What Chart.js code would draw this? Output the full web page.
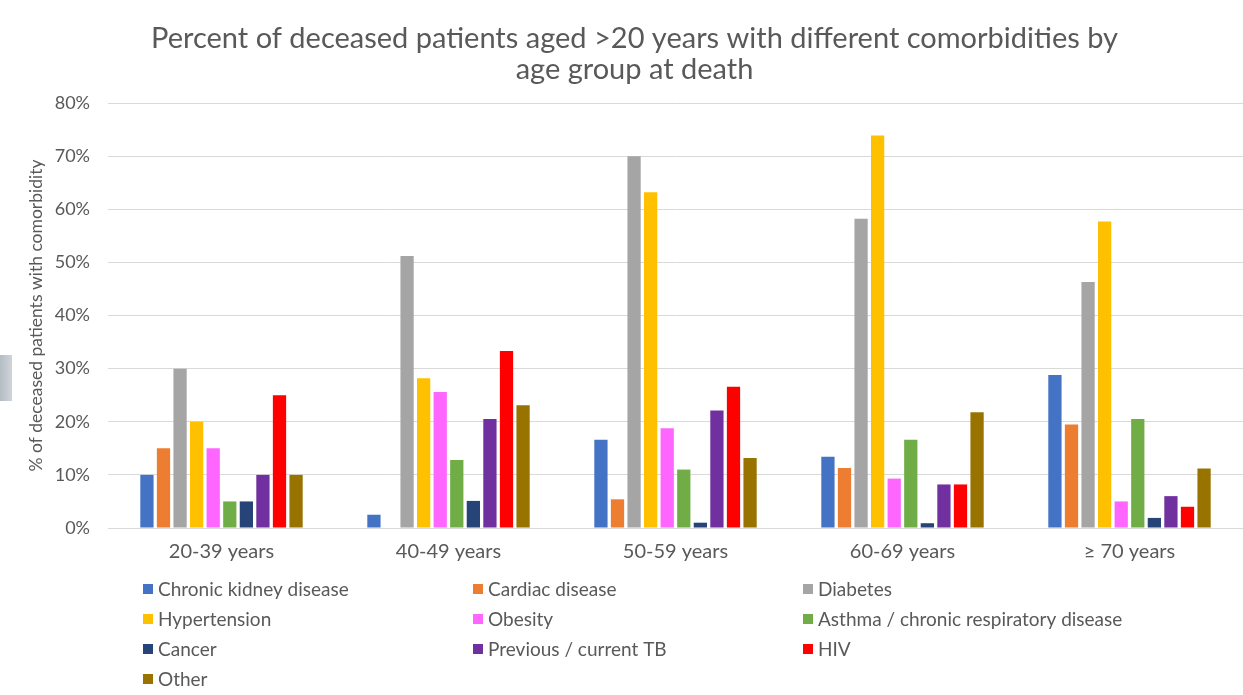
<!DOCTYPE html>
<html>
<head>
<meta charset="utf-8">
<script src="https://cdn.jsdelivr.net/npm/chart.js@4.4.1/dist/chart.umd.min.js"></script>
<style>
  html, body { margin: 0; padding: 0; background: #fff; overflow: hidden; }
  #wrap { position: relative; width: 1243px; height: 695px; }
  #edgeBox { position: absolute; left: 0; top: 355px; width: 12px; height: 46px;
             background: linear-gradient(90deg, #b4bcc4, #cfd4d9); }
  #edgeMark { position: absolute; left: -6px; top: 224px; font: 15px Lato, sans-serif; color: #1e8fe6; }
</style>
</head>
<body>
<div id="wrap">
  <canvas id="chart" width="1243" height="695"></canvas>
  <div id="edgeBox"></div>
  <span id="edgeMark">s</span>
</div>
<script>
// Age groups at death
const ageGroups = ['20-39 years', '40-49 years', '50-59 years', '60-69 years', '\u2265 70 years'];

// Percent of deceased patients with each comorbidity, per age group
const chronicKidney = [10, 2.5, 16.6, 13.4, 28.8];
const cardiac       = [15, 0, 5.4, 11.3, 19.5];
const diabetes      = [30, 51.2, 70, 58.2, 46.3];
const hypertension  = [20, 28.2, 63.2, 73.9, 57.7];
const obesity       = [15, 25.6, 18.8, 9.3, 5.0];
const asthma        = [5, 12.8, 11.0, 16.6, 20.5];
const cancer        = [5, 5.1, 1.0, 0.9, 1.9];
const tb            = [10, 20.5, 22.1, 8.2, 6.0];
const hiv           = [25, 33.3, 26.6, 8.2, 4.0];
const other         = [10, 23.1, 13.2, 21.8, 11.2];

const seriesNames = ['Chronic kidney disease', 'Cardiac disease', 'Diabetes',
  'Hypertension', 'Obesity', 'Asthma / chronic respiratory disease',
  'Cancer', 'Previous / current TB', 'HIV', 'Other'];
const seriesValues = [chronicKidney, cardiac, diabetes, hypertension, obesity,
  asthma, cancer, tb, hiv, other];
const seriesColors = ['#4472C4', '#ED7D31', '#A5A5A5', '#FFC000', '#FF66FF',
  '#70AD47', '#264478', '#7030A0', '#FF0000', '#997300'];

const yTicks = [0, 10, 20, 30, 40, 50, 60, 70, 80];

const textGray = '#595959';
const fontFamily = 'Lato, "Open Sans", sans-serif';

// Three-column legend drawn under the axis
const gridLegend = {
  id: 'gridLegend',
  afterDraw(chart) {
    const ctx = chart.ctx;
    ctx.save();
    ctx.font = '19px ' + fontFamily;
    ctx.textBaseline = 'middle';
    ctx.textAlign = 'left';
    chart.data.datasets.forEach((ds, i) => {
      const col = i % 3, row = Math.floor(i / 3);
      const x = 143 + col * 330;
      const y = 589 + row * 30;
      ctx.fillStyle = ds.backgroundColor;
      ctx.fillRect(x, y - 5, 10, 10);
      ctx.fillStyle = textGray;
      ctx.fillText(ds.label, x + 15, y + 1);
    });
    ctx.restore();
  }
};

new Chart(document.getElementById('chart'), {
  type: 'bar',
  data: {
    labels: ageGroups,
    datasets: seriesNames.map((name, i) => ({
      label: name,
      data: seriesValues[i],
      backgroundColor: seriesColors[i],
      borderWidth: 0,
      categoryPercentage: 0.73,
      barPercentage: 0.8
    }))
  },
  options: {
    responsive: false,
    animation: false,
    devicePixelRatio: 1,
    layout: { padding: { left: 26, right: 0, top: 0, bottom: 119 } },
    plugins: {
      legend: { display: false },
      tooltip: { enabled: false },
      title: {
        display: true,
        text: ['Percent of deceased patients aged >20 years with different comorbidities by',
               'age group at death'],
        color: textGray,
        font: { family: fontFamily, size: 29, weight: 'normal', lineHeight: 1.07 },
        padding: { top: 23, bottom: 18 }
      }
    },
    scales: {
      x: {
        grid: { display: false, drawTicks: false },
        border: { color: '#D9D9D9', width: 1 },
        ticks: { color: textGray, font: { family: fontFamily, size: 20 }, padding: 12 }
      },
      y: {
        min: 0,
        max: 80,
        afterBuildTicks(scale) { scale.ticks = yTicks.map(v => ({ value: v })); },
        afterFit(scale) { scale.width = 82; },
        grid: { color: '#D9D9D9', lineWidth: 1, drawTicks: false },
        border: { display: false },
        ticks: {
          color: textGray,
          font: { family: fontFamily, size: 18 },
          padding: 18,
          callback: v => v + '%'
        },
        title: {
          display: true,
          text: '% of deceased patients with comorbidity',
          color: textGray,
          font: { family: fontFamily, size: 17.5 },
          padding: { top: 0, bottom: 0 }
        }
      }
    }
  },
  plugins: [gridLegend]
});
</script>
</body>
</html>
